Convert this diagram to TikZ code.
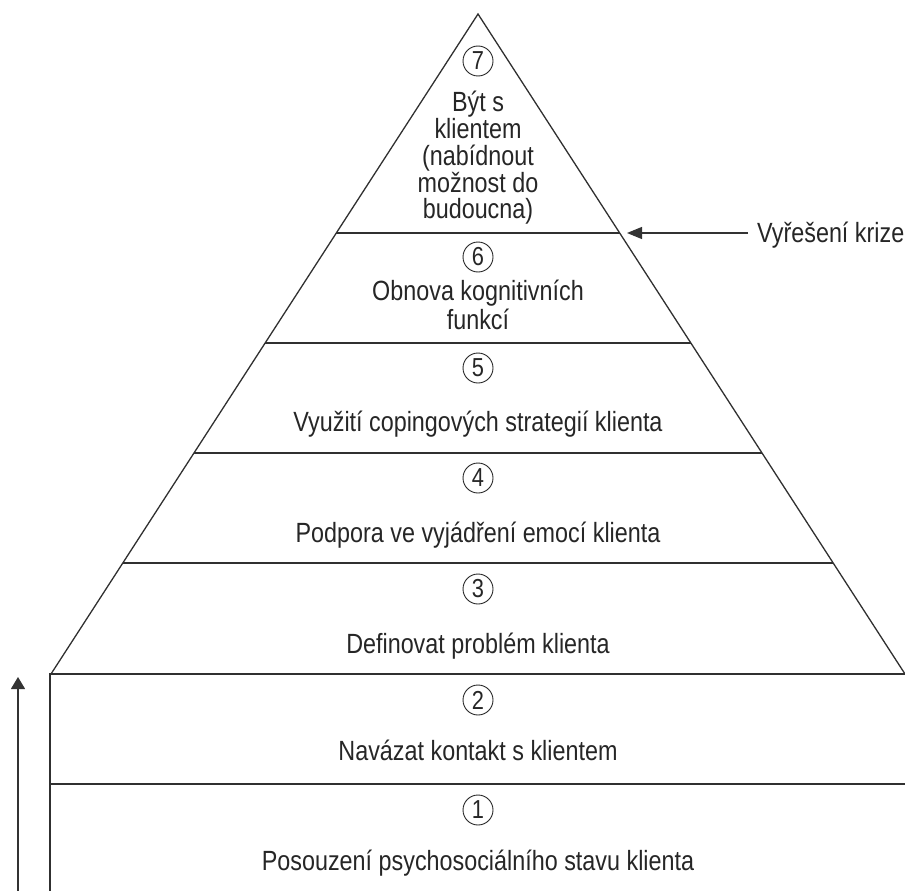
\documentclass[tikz,border=0pt]{standalone}
\usepackage{fontspec}
\setmainfont[FakeStretch=0.84]{Liberation Sans}
\usetikzlibrary{calc,arrows.meta}
\definecolor{ink}{HTML}{262626}
\definecolor{lineink}{HTML}{303030}
\begin{document}
\begin{tikzpicture}[x=1pt,y=-1pt,
  edge/.style={draw=lineink, line width=1.3pt},
  lbl/.style={anchor=base, inner sep=0pt, font=\fontsize{27.8}{30}\selectfont, text=ink},
  num/.style={circle, draw=ink, line width=0.9pt, minimum size=30pt, inner sep=0pt, font=\fontsize{26}{26}\selectfont, text=ink},
  arr/.style={-{Triangle[length=13pt,width=13pt]}, draw=black!80, line width=1.2pt}]
\useasboundingbox (0,0) rectangle (905,891);
% pyramid outline
\coordinate (A) at (478,14);
\coordinate (BL) at (51,674);
\coordinate (BR) at (905,674);
\draw[edge] (BL) -- (A) -- (BR);
% base block
\coordinate (RL) at (50,674);
\coordinate (RR) at (905,674);
\coordinate (RB) at (50,891);
\coordinate (ML) at (50,784);
\coordinate (MR) at (905,784);
\draw[edge] (RB) -- (RL) -- (RR);
\draw[edge] (ML) -- (MR);
% dividing lines in the pyramid
\foreach \yy/\nm in {233/a,343/b,453/c,563/d}{
  \pgfmathsetmacro{\tt}{(\yy-14)/660}
  \coordinate (L\nm) at ($(A)!\tt!(BL)$);
  \coordinate (R\nm) at ($(A)!\tt!(BR)$);
  \draw[edge] (L\nm) -- (R\nm);
}
% level 7
\node[num] (c7) at (478,61) {7};
\node[lbl] (t7a) at (478,111) {Být s};
\node[lbl] (t7b) at (478,138) {klientem};
\node[lbl] (t7c) at (478,165) {(nabídnout};
\node[lbl] (t7d) at (478,192) {možnost do};
\node[lbl] (t7e) at (478,218) {budoucna)};
% level 6
\node[num] (c6) at (478,257) {6};
\node[lbl] (t6a) at (478,300) {Obnova kognitivních};
\node[lbl] (t6b) at (478,329) {funkcí};
% level 5
\node[num] (c5) at (478,368) {5};
\node[lbl] (t5) at (478,431) {Využití copingových strategií klienta};
% level 4
\node[num] (c4) at (478,478) {4};
\node[lbl] (t4) at (478,542) {Podpora ve vyjádření emocí klienta};
% level 3
\node[num] (c3) at (478,589) {3};
\node[lbl] (t3) at (478,653) {Definovat problém klienta};
% level 2
\node[num] (c2) at (478,700) {2};
\node[lbl] (t2) at (478,760) {Navázat kontakt s klientem};
% level 1
\node[num] (c1) at (478,810) {1};
\node[lbl] (t1) at (478,870) {Posouzení psychosociálního stavu klienta};
% crisis resolved arrow
\node[lbl, anchor=base west] (vk) at (757,242) {Vyřešení krize};
\coordinate (vks) at (748,233);
\coordinate (vkt) at (627,233);
\draw[arr, -{Triangle[length=15pt,width=12pt]}] (vks) -- (vkt);
% left upward arrow
\coordinate (ub) at (18,891);
\coordinate (ut) at (18,677);
\draw[arr, -{Triangle[length=12pt,width=14pt]}] (ub) -- (ut);
\end{tikzpicture}
\end{document}
